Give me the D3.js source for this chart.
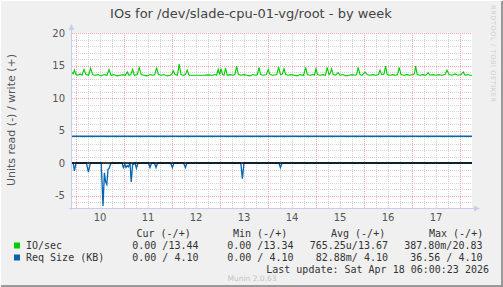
<!DOCTYPE html>
<html>
<head>
<meta charset="utf-8">
<style>
    body { margin: 0; background: #f0f0f0; }
    svg { display: block; }
    .tick text, .lbl { font-family: "DejaVu Sans", sans-serif; fill: #555; }
    .mono { font-family: "DejaVu Sans Mono", monospace; font-size: 10px; fill: #333; white-space: pre; }
</style>
</head>
<body>
<script src="https://d3js.org/d3.v7.min.js"></script>
<script>
    // time range of the week graph (hours counted from start)
    var startTime = new Date(2026, 3, 9, 22, 0, 0);
    var endTime = new Date(2026, 3, 18, 6, 0, 0);

    var yTicks = [-5, 0, 5, 10, 15, 20];

    // IO/sec write (+), [hours from start, value]
    var ioWrite = [
        [0,13.9],[0.6,13.7],[1.2,14.3],[2,13.6],[3,13.5],[4,13.7],[5,13.5],[6,14.4],[7,13.6],[8.3,13.5],
        [9.3,14.6],[10.3,13.6],[11.5,13.5],[13,13.6],[14.5,13.4],[16,13.6],[17.5,13.5],[18.5,14.4],[19.5,13.5],[21,13.6],
        [22.5,13.4],[24,13.5],[25.5,13.6],[26.7,13.5],[27.6,14.0],[28.5,13.5],[29.4,13.6],[30.3,14.4],[31.2,13.5],[32.6,13.6],
        [33.6,14.7],[34.6,13.6],[36,13.5],[37.5,13.4],[39,13.6],[40.5,13.5],[41.4,13.6],[42.3,14.7],[43.2,13.6],[44.5,13.5],
        [46,13.6],[47.5,13.4],[49,13.5],[49.8,13.6],[50.6,14.2],[51.5,13.6],[52.7,13.5],[53.6,15.2],[54.5,13.6],[55.5,13.5],
        [56.7,13.6],[57.6,14.3],[58.5,13.5],[60,13.5],[62,13.5],[64,13.5],[66,13.5],[68,13.55],[70,13.5],[71.5,13.6],
        [72.3,13.5],[73.1,14.4],[73.8,13.6],[74.5,14.5],[75.3,13.6],[76,13.5],[76.8,14.6],[77.6,13.5],[79,13.6],[80.5,13.5],
        [81.5,13.6],[82.3,14.9],[83.2,13.6],[84.5,13.5],[86,13.6],[87.5,13.5],[89,13.4],[90.5,13.6],[92,13.5],[92.7,13.6],
        [93.5,14.7],[94.3,13.6],[95.5,13.5],[97.2,13.6],[98.1,14.4],[99,13.6],[100.5,13.5],[102.4,13.6],[103.3,14.8],[104.2,13.6],
        [105.2,13.7],[106,14.5],[106.8,13.6],[108,13.5],[109.5,13.6],[111,13.5],[112.5,13.4],[114,13.6],[115.8,13.5],[116.8,14.7],
        [117.7,13.6],[119,13.5],[120.5,13.6],[121.2,13.5],[122,14.5],[122.8,13.6],[124,13.5],[125.5,13.6],[126.7,13.5],[127.6,14.7],
        [128.5,13.6],[129,13.7],[129.8,14.5],[130.6,13.6],[131.8,13.5],[133.1,13.9],[134,13.5],[135.5,13.6],[137,13.4],[138.5,13.5],
        [140,13.6],[141.5,13.5],[142.3,13.6],[143.1,14.7],[144,13.6],[145,13.5],[146.5,14.0],[147.5,13.6],[149,13.5],[150.5,13.6],
        [152,13.5],[153.2,13.6],[154,14.3],[154.8,13.6],[156,13.7],[156.8,14.9],[157.6,13.6],[159,13.5],[160.5,13.6],[162,13.5],
        [162.8,13.6],[163.6,14.7],[164.5,13.6],[166,13.5],[167.5,13.6],[169,13.5],[170.5,13.6],[171.2,13.7],[171.8,14.9],[172.6,13.6],
        [174,13.5],[175.5,13.6],[177,13.5],[178.1,13.9],[179,13.5],[180.5,13.6],[182,13.5],[183.5,13.6],[185,13.5],[186.5,13.6],
        [187.5,14.3],[188.5,13.6],[190,13.5],[191.5,13.7],[193,13.5],[194.5,13.6],[195.6,14.0],[196.5,13.5],[198,13.6],[199,13.5],[200,13.5]
    ];

    // Req Size write (+), flat
    var reqWrite = [[0,4.1],[200,4.1]];

    // Req Size read (-), plotted negative
    var reqRead = [
        [0,0],[0.6,0],[1.2,1.2],[2,0],[7.2,0],[8.2,1.4],[9.2,0],[14.6,0],[15.5,6.6],[16.2,1.5],
        [16.8,2.9],[17.4,3.3],[18,1.0],[18.6,0.8],[19.2,0.2],[19.8,0],[25,0],[25.7,0.7],[26.4,0.2],[27,0.7],
        [27.6,0.4],[28.2,0.6],[29,0],[29.6,2.9],[30.3,0.3],[31.5,0],[32.2,0.8],[33,0],[38.2,0],[39,0.7],
        [39.8,0],[41.2,0],[42,0.7],[42.8,0],[49.3,0],[50.2,0.7],[51,0],[55.8,0],[56.7,0.7],[57.5,0],
        [84.4,0],[85.2,2.4],[86,0],[103.4,0],[104.2,0.7],[105,0],[200,0]
    ];

    var legendNames = ["IO/sec", "Req Size (KB)"];
    var legendColors = ["#00cc00", "#0066b3"];
    var curVals = ["0.00 /13.44", "0.00 / 4.10"];
    var minVals = ["0.00 /13.34", "0.00 / 4.10"];
    var avgVals = ["765.25u/13.67", " 82.88m/ 4.10"];
    var maxVals = ["387.80m/20.83", "  36.56 / 4.10"];

    var W = 503, H = 287;
    var plotL = 72, plotR = 472, plotT = 33, plotB = 208;
    var pxPerUnit = 6.5;

    var x = d3.scaleTime().domain([startTime, endTime]).range([plotL, plotR]);
    var y = d3.scaleLinear().domain([20 - (plotB - plotT) / pxPerUnit, 20]).range([plotB, plotT]);
    var hx = function(h) { return x(new Date(+startTime + h * 3600000)); };

    var svg = d3.select("body").append("svg").attr("width", W).attr("height", H);

    svg.append("rect").attr("width", W).attr("height", H).attr("fill", "#f0f0f0");
    // 3d-ish border
    svg.append("path").attr("d", "M0.5," + (H - 1) + "V0.5H" + (W - 1)).attr("stroke", "#fff").attr("fill", "none");
    svg.append("path").attr("d", "M1," + (H - 1) + "H" + (W - 1) + "V1").attr("stroke", "#999").attr("stroke-width", 2).attr("fill", "none");

    svg.append("rect").attr("x", plotL).attr("y", plotT).attr("width", plotR - plotL).attr("height", plotB - plotT).attr("fill", "#fff");

    // title
    svg.append("text").attr("class", "lbl").attr("x", 251).attr("y", 18)
        .attr("text-anchor", "middle").style("font-size", "13px").style("fill", "#444")
        .text("IOs for /dev/slade-cpu-01-vg/root - by week");

    // grid: horizontal minor every 1 unit, major every 5
    var yMinor = d3.range(Math.ceil(y.domain()[0]), 21).filter(function(v) { return v % 5 !== 0; });
    svg.append("g").selectAll("line").data(yMinor).enter().append("line")
        .attr("x1", plotL).attr("x2", plotR).attr("y1", function(d) { return Math.round(y(d)) + 0.5; })
        .attr("y2", function(d) { return Math.round(y(d)) + 0.5; })
        .attr("stroke", "#d4d4d4").attr("stroke-dasharray", "1,1");

    var tMinor = d3.timeHour.every(6).range(startTime, endTime).filter(function(d) { return d.getHours() !== 0; });
    var tMajor = d3.timeDay.range(startTime, endTime);
    svg.append("g").selectAll("line").data(tMinor).enter().append("line")
        .attr("x1", function(d) { return Math.round(x(d)) + 0.5; }).attr("x2", function(d) { return Math.round(x(d)) + 0.5; })
        .attr("y1", plotT).attr("y2", plotB)
        .attr("stroke", "#d4d4d4").attr("stroke-dasharray", "1,1");

    svg.append("g").selectAll("line").data(yTicks).enter().append("line")
        .attr("x1", plotL).attr("x2", plotR).attr("y1", function(d) { return Math.round(y(d)) + 0.5; })
        .attr("y2", function(d) { return Math.round(y(d)) + 0.5; })
        .attr("stroke", "#eeaaaa").attr("stroke-dasharray", "1,1");
    svg.append("g").selectAll("line").data(tMajor).enter().append("line")
        .attr("x1", function(d) { return Math.round(x(d)) + 0.5; }).attr("x2", function(d) { return Math.round(x(d)) + 0.5; })
        .attr("y1", plotT).attr("y2", plotB)
        .attr("stroke", "#eeaaaa").attr("stroke-dasharray", "1,1");

    // y axis labels
    svg.append("g").selectAll("text").data(yTicks).enter().append("text")
        .attr("class", "lbl").style("font-size", "10px")
        .attr("x", 65).attr("y", function(d) { return y(d) + 3.5; })
        .attr("text-anchor", "end").text(function(d) { return d; });

    // x axis labels at noon
    var noons = tMajor.map(function(d) { return new Date(+d + 12 * 3600000); }).filter(function(d) { return d < endTime; });
    svg.append("g").selectAll("text").data(noons).enter().append("text")
        .attr("class", "lbl").style("font-size", "10px")
        .attr("x", function(d) { return x(d); }).attr("y", 221)
        .attr("text-anchor", "middle").text(d3.timeFormat("%-d"));

    svg.append("text").attr("class", "lbl").style("font-size", "11px")
        .attr("transform", "translate(15,120) rotate(-90)").attr("text-anchor", "middle")
        .text("Units read (-) / write (+)");

    // series
    var line = d3.line().x(function(d) { return hx(d[0]); }).y(function(d) { return y(d[1]); });
    svg.append("path").datum(reqRead.map(function(d) { return [d[0], -d[1]]; }))
        .attr("d", line).attr("fill", "none").attr("stroke", "#0066b3").attr("stroke-width", 1.3);
    svg.append("path").datum(reqWrite).attr("d", line).attr("fill", "none")
        .attr("stroke", "#0066b3").attr("stroke-width", 1.5);
    svg.append("path").datum(ioWrite).attr("d", line).attr("fill", "none")
        .attr("stroke", "#00cc00").attr("stroke-width", 1.1);

    // zero rule (covers the read line where it sits at zero)
    svg.append("line").attr("x1", plotL).attr("x2", plotR).attr("y1", y(0)).attr("y2", y(0))
        .attr("stroke", "#000").attr("stroke-width", 1.4);

    // axes with arrows
    var axisCol = "#c8ccf0";
    svg.append("line").attr("x1", plotL - 0.5).attr("x2", plotL - 0.5).attr("y1", plotB + 2).attr("y2", plotT - 4).attr("stroke", axisCol);
    svg.append("line").attr("x1", plotL - 3).attr("x2", plotR + 3).attr("y1", plotB + 0.5).attr("y2", plotB + 0.5).attr("stroke", axisCol);
    svg.append("path").attr("d", "M" + (plotL - 3.5) + "," + (plotT - 3) + "L" + (plotL - 0.5) + "," + (plotT - 9) + "L" + (plotL + 2.5) + "," + (plotT - 3) + "Z").attr("fill", axisCol);
    svg.append("path").attr("d", "M" + (plotR + 2) + "," + (plotB - 2.5) + "L" + (plotR + 8) + "," + (plotB + 0.5) + "L" + (plotR + 2) + "," + (plotB + 3.5) + "Z").attr("fill", axisCol);

    // legend
    var hdr = [["Cur (-/+)", 136.5], ["Min (-/+)", 233], ["Avg (-/+)", 331], ["Max (-/+)", 429]];
    svg.append("g").selectAll("text").data(hdr).enter().append("text").attr("class", "mono")
        .attr("x", function(d) { return d[1]; }).attr("y", 237).text(function(d) { return d[0]; });

    var rows = legendNames.map(function(n, i) {
        return { name: n, color: legendColors[i], cur: curVals[i], min: minVals[i], avg: avgVals[i], max: maxVals[i], y: 249 + i * 12 };
    });
    var rg = svg.append("g").selectAll("g").data(rows).enter().append("g");
    rg.append("rect").attr("x", 14).attr("y", function(d) { return d.y - 6.5; }).attr("width", 6).attr("height", 6)
        .attr("fill", function(d) { return d.color; });
    rg.append("text").attr("class", "mono").attr("x", 26).attr("y", function(d) { return d.y; }).text(function(d) { return d.name; });
    [["cur", 198.5], ["min", 293.5], ["avg", 388], ["max", 482.5]].forEach(function(c) {
        rg.append("text").attr("class", "mono").attr("text-anchor", "end")
            .attr("x", c[1]).attr("y", function(d) { return d.y; }).text(function(d) { return d[c[0]]; });
    });

    svg.append("text").attr("class", "mono").attr("x", 489).attr("y", 273).attr("text-anchor", "end")
        .text("Last update: Sat Apr 18 06:00:23 2026");

    svg.append("text").attr("class", "lbl").attr("x", 252).attr("y", 281).attr("text-anchor", "middle")
        .style("font-size", "7.5px").style("fill", "#c4c4c4").text("Munin 2.0.63");

    svg.append("text").attr("class", "lbl").attr("transform", "translate(491,5) rotate(90)")
        .style("font-size", "6.5px").style("fill", "#cfcfcf")
        .attr("textLength", 97).attr("lengthAdjust", "spacing")
        .text("RRDTOOL / TOBI OETIKER");
</script>
</body>
</html>
